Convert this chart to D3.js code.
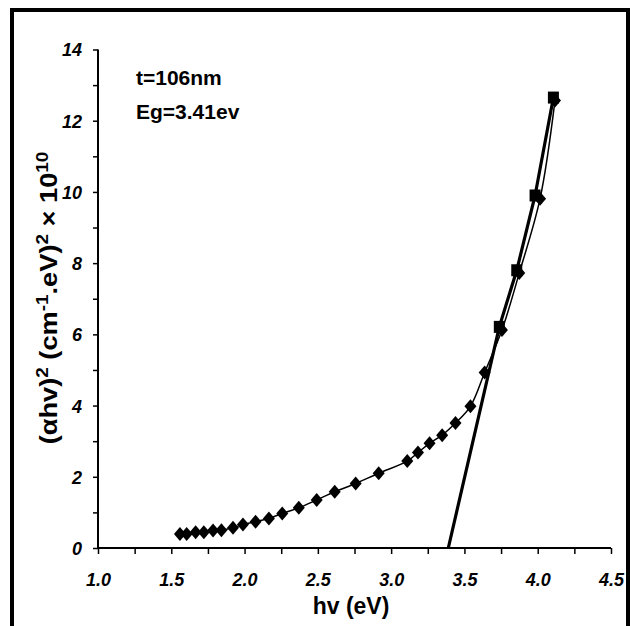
<!DOCTYPE html>
<html>
<head>
<meta charset="utf-8">
<script src="https://cdn.jsdelivr.net/npm/d3@7"></script>
<style>
  body { margin: 0; background: #fff; }
  svg { display: block; }
  .tk text { font-family: "Liberation Sans", Arial, sans-serif; font-weight: bold; font-style: italic; font-size: 18px; fill: #000; }
  .lbl { font-family: "Liberation Sans", Arial, sans-serif; font-weight: bold; fill: #000; }
</style>
</head>
<body>
<svg id="chart" width="630" height="626"></svg>
<script>
// diamonds: measured curve
var hv = [1.559, 1.605, 1.666, 1.722, 1.785, 1.842, 1.921, 1.989, 2.075, 2.166, 2.257, 2.370, 2.492, 2.615, 2.758, 2.915, 3.110, 3.183, 3.262, 3.348, 3.439, 3.541, 3.638, 3.756, 3.874, 4.016, 4.118];
var ahv2 = [0.39, 0.39, 0.44, 0.44, 0.49, 0.50, 0.57, 0.66, 0.74, 0.83, 0.97, 1.13, 1.35, 1.58, 1.81, 2.10, 2.44, 2.68, 2.94, 3.17, 3.51, 3.98, 4.93, 6.12, 7.72, 9.81, 12.57];
// squares: linear part
var fitHv = [3.738, 3.857, 3.982, 4.107];
var fitY = [6.21, 7.80, 9.90, 12.65];
var Eg = 3.39; // where the straight line meets the axis
var xTicks = [1.0, 1.5, 2.0, 2.5, 3.0, 3.5, 4.0, 4.5];
var yTicks = [0, 2, 4, 6, 8, 10, 12, 14];
var notes = ["t=106nm", "Eg=3.41ev"];

var svg = d3.select("#chart");

// frame round the chart (bottom edge runs off the picture)
svg.append("rect")
    .attr("x", 12).attr("y", 10)
    .attr("width", 616).attr("height", 700)
    .attr("fill", "none").attr("stroke", "#000").attr("stroke-width", 4);

var x = d3.scaleLinear().domain([1, 4.5]).range([98, 611]);
var y = d3.scaleLinear().domain([0, 14]).range([548, 49.5]);

// x axis
var xa = svg.append("g")
    .attr("class", "tk")
    .attr("transform", "translate(0," + y(0) + ")")
    .call(d3.axisBottom(x)
        .tickValues(d3.range(1, 4.51, 0.25))
        .tickSize(6)
        .tickFormat(function(d) { return xTicks.indexOf(d) >= 0 ? d3.format(".1f")(d) : ""; }));
xa.select(".domain").attr("d", "M" + x(1) + ",0H" + x(4.5)).attr("stroke-width", 2);
xa.selectAll(".tick line").attr("stroke-width", 1.5);
xa.selectAll(".tick text").attr("y", 38).attr("dy", 0).attr("font-size", 19);

// y axis
var ya = svg.append("g")
    .attr("class", "tk")
    .attr("transform", "translate(" + x(1) + ",0)")
    .call(d3.axisLeft(y)
        .tickValues(d3.range(0, 14.5, 1))
        .tickSize(5)
        .tickFormat(function(d) { return yTicks.indexOf(d) >= 0 ? d : ""; }));
ya.select(".domain").attr("d", "M0," + y(0) + "V" + y(14)).attr("stroke-width", 2);
ya.selectAll(".tick line").attr("stroke-width", 1.5);
ya.selectAll(".tick text").attr("x", -16).attr("dy", "0.36em").attr("font-size", 19);

// curve through diamonds
var pts = hv.map(function(d, i) { return [d, ahv2[i]]; });
var line = d3.line()
    .curve(d3.curveCatmullRom.alpha(0.5))
    .x(function(d) { return x(d[0]); })
    .y(function(d) { return y(d[1]); });

svg.append("path")
    .datum(pts)
    .attr("d", line)
    .attr("fill", "none").attr("stroke", "#000").attr("stroke-width", 1.5);

// straight extrapolation through the squares
var fitPts = [[Eg, 0]].concat(fitHv.map(function(d, i) { return [d, fitY[i]]; }));
svg.append("path")
    .datum(fitPts)
    .attr("d", d3.line().x(function(d) { return x(d[0]); }).y(function(d) { return y(d[1]); }))
    .attr("fill", "none").attr("stroke", "#000").attr("stroke-width", 3.2);

var diamond = {
  draw: function(ctx, size) {
    ctx.moveTo(0, -7); ctx.lineTo(6, 0); ctx.lineTo(0, 7); ctx.lineTo(-6, 0); ctx.closePath();
  }
};

svg.append("g").selectAll("rect")
    .data(fitHv)
  .enter().append("rect")
    .attr("x", function(d) { return x(d) - 5.5; })
    .attr("y", function(d, i) { return y(fitY[i]) - 6; })
    .attr("width", 11).attr("height", 12)
    .attr("fill", "#000");

svg.append("g").selectAll("path")
    .data(pts)
  .enter().append("path")
    .attr("d", d3.symbol().type(diamond))
    .attr("transform", function(d) { return "translate(" + x(d[0]) + "," + y(d[1]) + ")"; })
    .attr("fill", "#000");

// notes
svg.selectAll(".note")
    .data(notes)
  .enter().append("text")
    .attr("class", "lbl note")
    .attr("x", 136)
    .attr("y", function(d, i) { return 85 + i * 34; })
    .attr("font-size", 21)
    .text(function(d) { return d; });

// axis titles
svg.append("text")
    .attr("class", "lbl")
    .attr("x", 351).attr("y", 614)
    .attr("text-anchor", "middle")
    .attr("font-size", 23)
    .text("hv (eV)");

var yt = svg.append("text")
    .attr("class", "lbl")
    .attr("text-anchor", "middle")
    .attr("font-size", 23);
yt.append("tspan").text("(\u03b1hv)");
yt.append("tspan").attr("dy", -9).attr("font-size", 16).text("2");
yt.append("tspan").attr("dy", 9).text(" (cm");
yt.append("tspan").attr("dy", -9).attr("font-size", 16).text("-1");
yt.append("tspan").attr("dy", 9).text(".eV)");
yt.append("tspan").attr("dy", -9).attr("font-size", 16).text("2");
yt.append("tspan").attr("dy", 9).text(" \u00d7 10");
yt.append("tspan").attr("dy", -9).attr("font-size", 16).text("10");
// stretch the title to the length it has in the picture
var tw = yt.node().getComputedTextLength();
yt.attr("transform", "translate(57,298) rotate(-90) scale(" + (293 / tw) + ",1)");
</script>
</body>
</html>
